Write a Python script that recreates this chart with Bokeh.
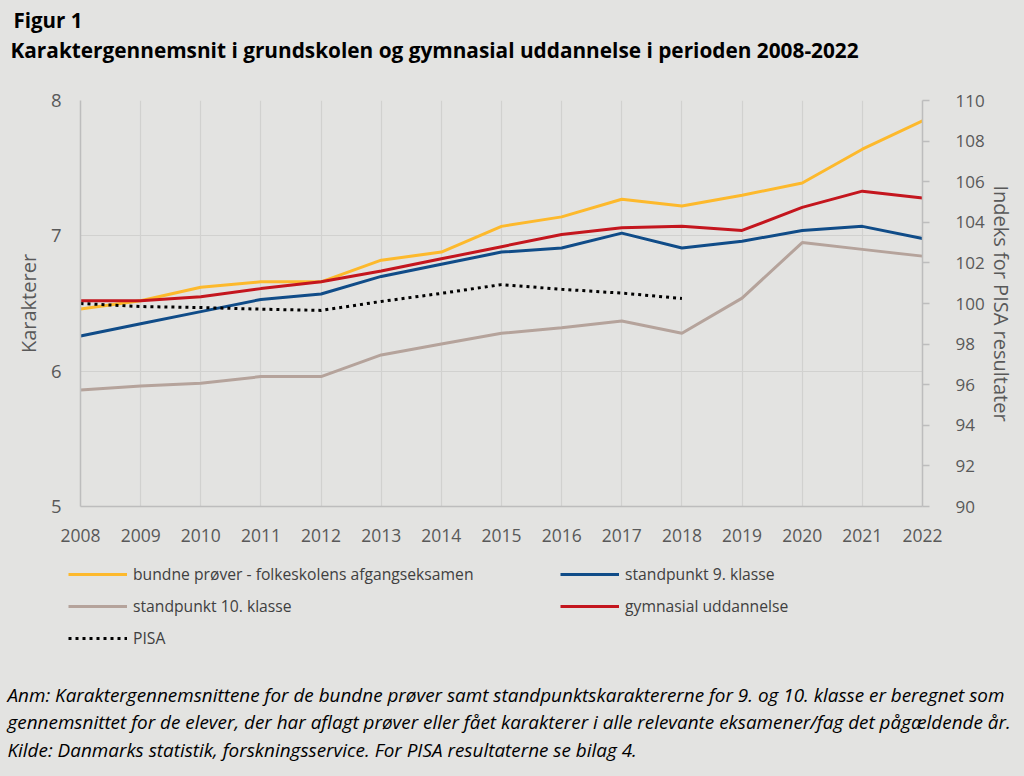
from bokeh.plotting import figure
from bokeh.layouts import column
from bokeh.models import (Range1d, LinearAxis, FixedTicker, Legend, LegendItem, Label)
from bokeh.embed import file_html
from bokeh.resources import INLINE

# ---- data ----
years = list(range(2008, 2023))
bundne = [6.46, 6.52, 6.62, 6.66, 6.66, 6.82, 6.88, 7.07, 7.14, 7.27, 7.22, 7.30, 7.39, 7.64, 7.85]
standpunkt9 = [6.26, 6.35, 6.44, 6.53, 6.57, 6.70, 6.79, 6.88, 6.91, 7.02, 6.91, 6.96, 7.04, 7.07, 6.98]
standpunkt10 = [5.86, 5.89, 5.91, 5.96, 5.96, 6.12, 6.20, 6.28, 6.32, 6.37, 6.28, 6.54, 6.95, 6.90, 6.85]
gymnasial = [6.52, 6.52, 6.55, 6.61, 6.66, 6.74, 6.83, 6.92, 7.01, 7.06, 7.07, 7.04, 7.21, 7.33, 7.28]
pisa_years = list(range(2008, 2019))
pisa = [100.0, 99.85, 99.8, 99.72, 99.66, 100.1, 100.5, 100.93, 100.7, 100.51, 100.25]

left_ticks = [5, 6, 7, 8]
right_ticks = list(range(90, 111, 2))

names = ["bundne prøver - folkeskolens afgangseksamen", "standpunkt 9. klasse",
         "standpunkt 10. klasse", "gymnasial uddannelse", "PISA"]
colors = ["#FDB92C", "#104C88", "#B5A39B", "#C4161E", "#000000"]

fig_title = "Figur 1"
main_title = "Karaktergennemsnit i grundskolen og gymnasial uddannelse i perioden 2008-2022"
notes = [
    "Anm: Karaktergennemsnittene for de bundne prøver samt standpunktskaraktererne for 9. og 10. klasse er beregnet som",
    "gennemsnittet for de elever, der har aflagt prøver eller fået karakterer i alle relevante eksamener/fag det pågældende år.",
    "Kilde: Danmarks statistik, forskningsservice. For PISA resultaterne se bilag 4.",
]

BG = "#E3E3E1"
FONT = "Open Sans"
TXT = "#595959"


def blank(h):
    f = figure(width=1024, height=h, output_backend="svg", toolbar_location=None,
               x_range=Range1d(0, 1), y_range=Range1d(0, 1),
               x_axis_type=None, y_axis_type=None, min_border=0,
               min_border_left=0, min_border_right=0, min_border_top=0, min_border_bottom=0)
    f.background_fill_color = BG
    f.border_fill_color = BG
    f.outline_line_color = None
    try:
        f.frame_align = False
    except Exception:
        pass
    return f


# ---- header ----
h = blank(70)
h.add_layout(Label(x=13, y=51, x_units="screen", y_units="screen", text=fig_title,
                   text_font=FONT, text_font_size="20.5px", text_font_style="bold",
                   text_color="#000000", text_baseline="alphabetic"))
h.add_layout(Label(x=10, y=21, x_units="screen", y_units="screen", text=main_title,
                   text_font=FONT, text_font_size="20.8px", text_font_style="bold",
                   text_color="#000000", text_baseline="alphabetic"))

# ---- chart ----
p = figure(width=1024, height=480, output_backend="svg", toolbar_location=None,
           x_range=Range1d(2008, 2022), y_range=Range1d(5, 8),
           min_border_left=80, min_border_right=102, min_border_top=30, min_border_bottom=44)
p.background_fill_color = BG
p.border_fill_color = BG
p.outline_line_color = None
p.extra_y_ranges = {"pisa": Range1d(90, 110)}

p.xaxis.ticker = FixedTicker(ticks=years)
p.yaxis.ticker = FixedTicker(ticks=left_ticks)
for ax in (p.xaxis[0], p.yaxis[0]):
    ax.major_tick_line_color = None
    ax.minor_tick_line_color = None
    ax.axis_line_color = "#BDBDBD"
    ax.axis_line_width = 1.5
    ax.major_label_text_font = FONT
    ax.major_label_text_color = TXT
p.xaxis.major_label_text_font_size = "17.5px"
p.xaxis.major_label_standoff = 16
p.yaxis.major_label_text_font_size = "18.5px"
p.yaxis.major_label_standoff = 13
p.yaxis.axis_label = "Karakterer"
p.yaxis.axis_label_text_font = FONT
p.yaxis.axis_label_text_font_size = "20px"
p.yaxis.axis_label_text_font_style = "normal"
p.yaxis.axis_label_text_color = TXT
p.yaxis.axis_label_standoff = 6

ry = LinearAxis(y_range_name="pisa", ticker=FixedTicker(ticks=right_ticks),
                axis_label="Indeks for PISA resultater")
ry.major_tick_out = 7
ry.major_tick_in = 0
ry.major_tick_line_color = "#BDBDBD"
ry.major_tick_line_width = 1.5
ry.minor_tick_line_color = None
ry.axis_line_color = "#BDBDBD"
ry.axis_line_width = 1.5
ry.major_label_text_font = FONT
ry.major_label_text_font_size = "17px"
ry.major_label_text_color = TXT
ry.major_label_standoff = 26
ry.axis_label_text_font = FONT
ry.axis_label_text_font_size = "20px"
ry.axis_label_text_font_style = "normal"
ry.axis_label_text_color = TXT
ry.axis_label_standoff = 0
p.add_layout(ry, "right")

p.xgrid.ticker = FixedTicker(ticks=years)
p.xgrid.grid_line_color = "#D1D1CF"
p.ygrid.grid_line_color = "#D1D1CF"
p.xgrid.grid_line_width = 1.2
p.ygrid.grid_line_width = 1.2

series = [(years, bundne, None), (years, standpunkt9, None), (years, standpunkt10, None),
          (years, gymnasial, None), (pisa_years, pisa, "pisa")]
for (xs, ys, rng), c in zip(series, colors):
    kw = dict(line_color=c, line_width=3)
    if rng:
        kw.update(line_dash="3 4", y_range_name=rng)
    p.line(xs, ys, **kw)

# ---- legend + notes ----
b = blank(226)
keys = []
for (xs, ys, rng), c in zip(series, colors):
    kw = dict(line_color=c, line_width=3)
    if rng:
        kw.update(line_dash="3 4")
    # legend key renderers (their data lie outside this panel's range, only the keys show)
    keys.append(b.line(xs, ys, **kw))


def mk_legend(idx, x, y):
    lg = Legend(items=[LegendItem(label=names[i], renderers=[keys[i]]) for i in idx],
                location=(x, y), orientation="vertical",
                padding=0, margin=0, spacing=10, glyph_width=59, glyph_height=22,
                label_height=22, label_standoff=6,
                label_text_font=FONT, label_text_font_size="15.7px", label_text_color="#404040",
                border_line_color=None, background_fill_alpha=0)
    b.add_layout(lg, "center")


mk_legend([0, 2, 4], 68, 127)
mk_legend([1, 3], 560, 159)

for t, yy in zip(notes, [82, 54.5, 27]):
    b.add_layout(Label(x=7, y=yy, x_units="screen", y_units="screen", text=t,
                       text_font=FONT, text_font_size="18.9px", text_font_style="italic",
                       text_color="#000000", text_baseline="alphabetic"))

layout = column(h, p, b, spacing=0)
html = file_html(layout, INLINE)
html = html.replace("<head>", "<head><style>body{background:#E3E3E1;}</style>", 1)
open("out.html", "w").write(html)
